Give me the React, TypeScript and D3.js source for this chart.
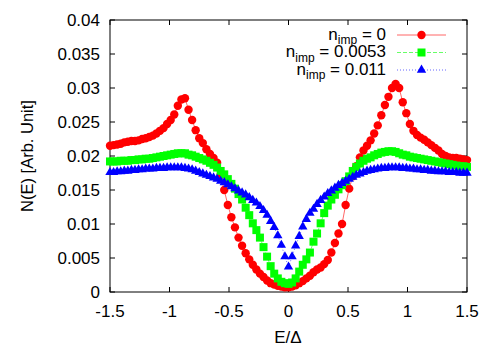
import React from 'react'
import * as d3 from 'd3'

// energy grid E/Delta, step 0.03
const energies = d3.range(101).map(i => +(-1.5 + i * 0.03).toFixed(2))

const dosClean = [
  0.0215, 0.0216, 0.0217, 0.0218, 0.0220, 0.0221, 0.0222, 0.0222, 0.0223, 0.0225,
  0.0226, 0.0228, 0.0230, 0.0233, 0.0237, 0.0241, 0.0247, 0.0253, 0.0261, 0.0274,
  0.0283, 0.0285, 0.0268, 0.0253, 0.0238, 0.0226, 0.0219, 0.0210, 0.0203, 0.0197,
  0.0190, 0.0172, 0.0150, 0.0128, 0.0110, 0.0095, 0.0080, 0.0068, 0.0057, 0.0048,
  0.0040, 0.0033, 0.0027, 0.0022, 0.0017, 0.0013, 0.0011, 0.0009, 0.0008, 0.0007,
  0.0007, 0.0008, 0.0010, 0.0013, 0.0016, 0.0020, 0.0024, 0.0029, 0.0033, 0.0036,
  0.0041, 0.0047, 0.0058, 0.0072, 0.0086, 0.0100, 0.0128, 0.0152, 0.0170, 0.0185,
  0.0198, 0.0208, 0.0215, 0.0223, 0.0233, 0.0245, 0.0260, 0.0275, 0.0287, 0.0300,
  0.0306, 0.0300, 0.0279, 0.0263, 0.0247, 0.0237, 0.0231, 0.0227, 0.0224, 0.0220,
  0.0216, 0.0212, 0.0208, 0.0203, 0.0200, 0.0198, 0.0197, 0.0197, 0.0196, 0.0195,
  0.0194,
]

const dosImp1 = [
  0.0192, 0.0192, 0.0192, 0.0193, 0.0193, 0.0193, 0.0194, 0.0194, 0.0195, 0.0195,
  0.0196, 0.0196, 0.0197, 0.0198, 0.0199, 0.0200, 0.0201, 0.0202, 0.0203, 0.0204,
  0.0204, 0.0204, 0.0202, 0.0201, 0.0199, 0.0197, 0.0195, 0.0193, 0.0190, 0.0187,
  0.0183, 0.0178, 0.0173, 0.0166, 0.0159, 0.0152, 0.0144, 0.0136, 0.0124, 0.0113,
  0.0101, 0.0091, 0.0080, 0.0066, 0.0052, 0.0038, 0.0027, 0.0020, 0.0015, 0.0013,
  0.0012, 0.0014, 0.0020, 0.0030, 0.0040, 0.0048, 0.0058, 0.0074, 0.0086, 0.0101,
  0.0116, 0.0127, 0.0136, 0.0143, 0.0151, 0.0157, 0.0163, 0.0170, 0.0178, 0.0184,
  0.0189, 0.0193, 0.0196, 0.0198, 0.0201, 0.0203, 0.0205, 0.0206, 0.0207, 0.0207,
  0.0206, 0.0204, 0.0202, 0.0201, 0.0199, 0.0198, 0.0197, 0.0196, 0.0195, 0.0194,
  0.0193, 0.0192, 0.0191, 0.0190, 0.0189, 0.0188, 0.0187, 0.0186, 0.0185, 0.0185,
  0.0184,
]

const dosImp2 = [
  0.0176, 0.0176, 0.0177, 0.0177, 0.0178, 0.0178, 0.0179, 0.0179, 0.0180, 0.0180,
  0.0181, 0.0181, 0.0181, 0.0182, 0.0182, 0.0182, 0.0183, 0.0183, 0.0183, 0.0183,
  0.0183, 0.0182, 0.0181, 0.0180, 0.0178, 0.0176, 0.0174, 0.0172, 0.0170, 0.0168,
  0.0166, 0.0163, 0.0161, 0.0158, 0.0155, 0.0152, 0.0149, 0.0146, 0.0143, 0.0139,
  0.0135, 0.0131, 0.0126, 0.0120, 0.0113, 0.0104, 0.0095, 0.0083, 0.0069, 0.0052,
  0.0037, 0.0052, 0.0068, 0.0082, 0.0096, 0.0107, 0.0116, 0.0122, 0.0129, 0.0135,
  0.0140, 0.0145, 0.0149, 0.0153, 0.0157, 0.0160, 0.0163, 0.0166, 0.0169, 0.0172,
  0.0174, 0.0176, 0.0178, 0.0179, 0.0180, 0.0181, 0.0182, 0.0182, 0.0183, 0.0183,
  0.0183, 0.0183, 0.0182, 0.0182, 0.0181, 0.0181, 0.0180, 0.0180, 0.0179, 0.0179,
  0.0178, 0.0178, 0.0177, 0.0177, 0.0177, 0.0176, 0.0176, 0.0176, 0.0175, 0.0175,
  0.0175,
]

const xTicks = [-1.5, -1, -0.5, 0, 0.5, 1, 1.5]
const yTicks = [0, 0.005, 0.01, 0.015, 0.02, 0.025, 0.03, 0.035, 0.04]
const legendValues = ['0', '0.0053', '0.011']

const W = 500, H = 350
const left = 110, right = 467, top = 20, bottom = 292
const font = '"Liberation Sans", Arial, sans-serif'

const series = [
  { values: dosClean, color: '#ff0000', dash: 'none', marker: 'circle' },
  { values: dosImp1, color: '#00ff00', dash: '4,2', marker: 'square' },
  { values: dosImp2, color: '#0000ff', dash: '1,2', marker: 'triangle' },
]

function Marker({ kind, x, y, color }: { kind: string, x: number, y: number, color: string }) {
  if (kind === 'circle') return <circle cx={x} cy={y} r={4.2} fill={color} />
  if (kind === 'square') return <rect x={x - 4} y={y - 4} width={8} height={8} fill={color} />
  const tri = d3.symbol(d3.symbolTriangle, 38)()
  return <path d={tri || ''} transform={`translate(${x},${y})`} fill={color} />
}

export default function App() {
  const x = d3.scaleLinear().domain([-1.5, 1.5]).range([left, right])
  const y = d3.scaleLinear().domain([0, 0.04]).range([bottom, top])
  const line = d3.line<number>().x((d, i) => x(energies[i])).y(d => y(d))

  return (
    <svg width={W} height={H} style={{ position: 'absolute', left: 0, top: 0, background: '#fff' }}
      fontFamily={font}>
      <defs>
        <clipPath id="plotclip">
          <rect x={left - 6} y={top - 6} width={right - left + 12} height={bottom - top + 12} />
        </clipPath>
      </defs>

      {/* ticks on all four sides, pointing inward */}
      {xTicks.map(t => (
        <g key={'x' + t}>
          <line x1={x(t)} x2={x(t)} y1={bottom} y2={bottom - 5} stroke="#000" />
          <line x1={x(t)} x2={x(t)} y1={top} y2={top + 5} stroke="#000" />
          <text x={x(t)} y={bottom + 25} fontSize={17} textAnchor="middle">{t}</text>
        </g>
      ))}
      {yTicks.map(t => (
        <g key={'y' + t}>
          <line x1={left} x2={left + 5} y1={y(t)} y2={y(t)} stroke="#000" />
          <line x1={right} x2={right - 5} y1={y(t)} y2={y(t)} stroke="#000" />
          <text x={left - 10} y={y(t) + 6} fontSize={17} textAnchor="end">{t}</text>
        </g>
      ))}

      <rect x={left} y={top} width={right - left} height={bottom - top} fill="none" stroke="#000" />

      <g clipPath="url(#plotclip)">
        {series.map((s, k) => (
          <g key={k}>
            <path d={line(s.values) || ''} fill="none" stroke={s.color} strokeWidth={1}
              strokeDasharray={s.dash} strokeOpacity={0.6} />
            {s.values.map((v, i) => (
              <Marker key={i} kind={s.marker} x={x(energies[i])} y={y(v)} color={s.color} />
            ))}
          </g>
        ))}
      </g>

      {/* legend */}
      {series.map((s, k) => {
        const ly = 35 + k * 17.5
        return (
          <g key={'leg' + k}>
            <text x={386} y={ly + 4.5} fontSize={17} textAnchor="end">
              n<tspan fontSize={12} dy={4.5}>imp</tspan><tspan dy={-4.5}> = {legendValues[k]}</tspan>
            </text>
            <line x1={397} x2={446} y1={ly} y2={ly} stroke={s.color} strokeWidth={1}
              strokeDasharray={s.dash} strokeOpacity={0.6} />
            <Marker kind={s.marker} x={421.5} y={ly} color={s.color} />
          </g>
        )
      })}

      <text x={288} y={343} fontSize={17} textAnchor="middle">E/Δ</text>
      <text transform={`translate(33,156) rotate(-90)`} fontSize={16.5} textAnchor="middle">N(E) [Arb. Unit]</text>
    </svg>
  )
}
